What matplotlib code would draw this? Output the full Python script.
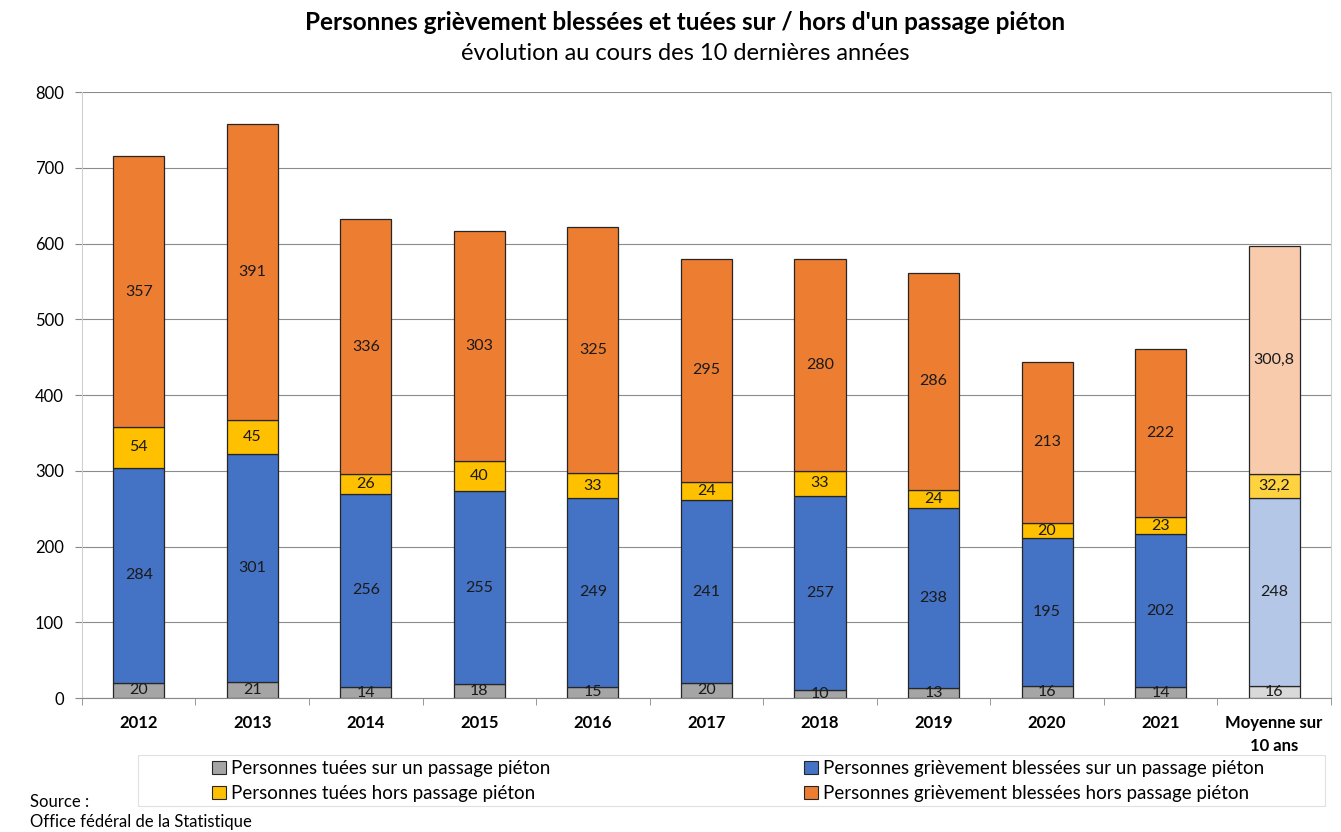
import numpy as np
import matplotlib.pyplot as plt
from matplotlib.patches import Patch, Rectangle

plt.rcParams['font.family'] = ['Lato', 'DejaVu Sans']

categories = ['2012', '2013', '2014', '2015', '2016', '2017', '2018', '2019', '2020', '2021', 'Moyenne sur\n10 ans']
tues_sur = [20, 21, 14, 18, 15, 20, 10, 13, 16, 14, 16]
blesses_sur = [284, 301, 256, 255, 249, 241, 257, 238, 195, 202, 248]
tues_hors = [54, 45, 26, 40, 33, 24, 33, 24, 20, 23, 32.2]
blesses_hors = [357, 391, 336, 303, 325, 295, 280, 286, 213, 222, 300.8]

series = [
    ('Personnes tuées sur un passage piéton', tues_sur, '#A5A5A5', '#D9D9D9'),
    ('Personnes grièvement blessées sur un passage piéton', blesses_sur, '#4472C4', '#B4C7E7'),
    ('Personnes tuées hors passage piéton', tues_hors, '#FFC000', '#FFD23F'),
    ('Personnes grièvement blessées hors passage piéton', blesses_hors, '#ED7D31', '#F8CBAD'),
]

W, H = 1341, 832
fig = plt.figure(figsize=(W / 100, H / 100), dpi=100)
ax = fig.add_axes([0.0611, 0.161, 0.9314, 0.7284])

x = np.arange(len(categories))
bottom = np.zeros(len(categories))
for name, vals, col, col_avg in series:
    vals = np.array(vals, dtype=float)
    colors = [col] * (len(categories) - 1) + [col_avg]
    ax.bar(x, vals, 0.45, bottom=bottom, color=colors, edgecolor='#262626', linewidth=0.9, zorder=3)
    for xi, b, v in zip(x, bottom, vals):
        txt = f'{v:g}'.replace('.', ',')
        ax.text(xi, b + v / 2, txt, ha='center', va='center', fontsize=11.5, color='#1a1a1a', zorder=4)
    bottom += vals

ax.set_xlim(-0.5, len(categories) - 0.5)
ax.set_ylim(0, 800)
ax.set_yticks(range(0, 801, 100))
ax.tick_params(axis='y', labelsize=12, length=5, color='#888888', pad=8)
ax.set_xticks(x)
ax.set_xticklabels(categories, fontsize=12, fontweight='bold', linespacing=1.55)
ax.set_xticks(np.arange(-0.5, len(categories), 1), minor=True)
ax.tick_params(axis='x', which='major', length=0, pad=12)
ax.tick_params(axis='x', which='minor', length=5, color='#888888')
ax.grid(axis='y', color='#8c8c8c', linewidth=0.8, zorder=0)

for side in ['left', 'right']:
    ax.spines[side].set_color('#d0d0d0')
ax.spines['top'].set_visible(False)
ax.spines['bottom'].set_color('#888888')

fig.text(0.511, 0.973, "Personnes grièvement blessées et tuées sur / hors d'un passage piéton",
         ha='center', va='center', fontsize=17.5, fontweight='bold')
fig.text(0.511, 0.936, "évolution au cours des 10 dernières années", ha='center', va='center', fontsize=17)

# legend box
fig.add_artist(Rectangle((138 / W, 1 - 806 / H), (1325 - 138) / W, 51 / H, transform=fig.transFigure,
                         facecolor='white', edgecolor='#e0e0e0', linewidth=0.8, zorder=1))

handles = [Patch(facecolor=c, edgecolor='#262626', linewidth=0.8) for _, _, c, _ in series]
labels = [n for n, _, _, _ in series]
for idx, x0 in [([0, 2], 203), ([1, 3], 795)]:
    leg = fig.legend([handles[i] for i in idx], [labels[i] for i in idx], loc='center left',
                     bbox_to_anchor=(x0 / W, 1 - 781 / H), fontsize=13.5, frameon=False,
                     handlelength=0.75, handleheight=0.75, handletextpad=0.25, labelspacing=0.42,
                     borderpad=0)
    leg.set_zorder(2)

fig.text(0.022, 1 - 812 / H, 'Source :\nOffice fédéral de la Statistique', ha='left', va='center',
         fontsize=12, linespacing=1.25)

fig.savefig('out.png', dpi=100)
